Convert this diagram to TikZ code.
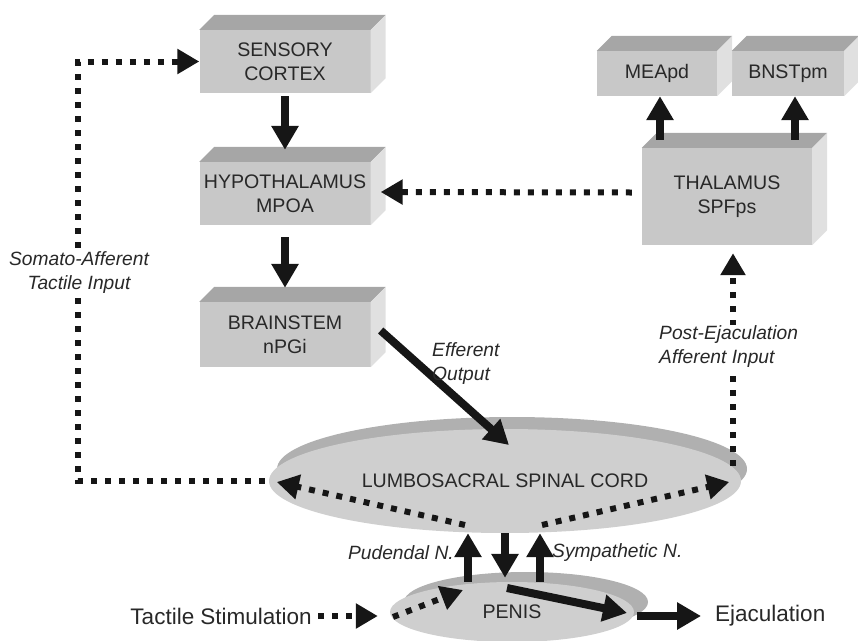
\documentclass[tikz,border=0pt]{standalone}
\usepackage{fontspec}
\setmainfont{Liberation Sans}
\usetikzlibrary{arrows.meta,calc,shapes.geometric}

\definecolor{frontgray}{RGB}{200,200,200}
\definecolor{topgray}{RGB}{166,166,166}
\definecolor{sidegray}{RGB}{224,224,224}
\definecolor{discfront}{RGB}{207,207,207}
\definecolor{discback}{RGB}{176,176,176}
\definecolor{ink}{RGB}{40,40,40}
\definecolor{arrowink}{RGB}{22,22,22}

\begin{document}
\begin{tikzpicture}[x=1pt,y=-1pt,
  box/.style={fill=frontgray, text=ink, inner sep=0pt, align=center,
    font=\fontsize{19.6}{24}\selectfont},
  topface/.style={fill=topgray},
  sideface/.style={fill=sidegray},
  disc/.style={ellipse, fill=discfront, text=ink, inner sep=0pt,
    font=\fontsize{19.6}{24}\selectfont},
  discshadow/.style={ellipse, fill=discback, inner sep=0pt},
  solidarrow/.style={draw=arrowink, line width=8pt,
    -{Triangle[length=24pt,width=26pt]}},
  dotarrow/.style={draw=arrowink, line width=6pt, dash pattern=on 6pt off 8pt,
    -{Triangle[length=22pt,width=24pt]}},
  lbl/.style={font=\fontsize{19.2}{24}\selectfont\itshape, text=ink,
    inner sep=1pt, fill=white},
  plain/.style={font=\fontsize{22.5}{26}\selectfont, text=ink, inner sep=2pt},
]
\clip (0,0) rectangle (858,640);

% --- brain boxes (front faces) ---
\node[box, minimum width=171pt, minimum height=63pt] (cortex) at (285,61.5) {SENSORY\\CORTEX};
\node[box, minimum width=171pt, minimum height=63pt] (hypo) at (285,193.5) {HYPOTHALAMUS\\MPOA};
\node[box, minimum width=171pt, minimum height=65pt] (brain) at (285,334.5) {BRAINSTEM\\nPGi};
\node[box, minimum width=170pt, minimum height=97pt] (thal) at (727,196.5) {THALAMUS\\SPFps};
\node[box, minimum width=120pt, minimum height=45pt] (mea) at (657,73.5) {MEApd};
\node[box, minimum width=112pt, minimum height=45pt] (bnst) at (788,73.5) {BNSTpm};

% --- top and side faces give the boxes depth ---
\foreach \b in {cortex,hypo,brain,thal,mea,bnst}{
  \fill[topface] (\b.north west) -- ++(15,-15)
    -- ([shift={(15,-15)}]\b.north east) -- (\b.north east) -- cycle;
  \fill[sideface] (\b.north east) -- ++(15,-15)
    -- ([shift={(15,-15)}]\b.south east) -- (\b.south east) -- cycle;
}

% --- spinal cord and penis discs ---
\node[discshadow, minimum width=470pt, minimum height=104pt] (cordback) at (512,469) {};
\node[disc, minimum width=472pt, minimum height=104pt] (cord) at (505,481) {LUMBOSACRAL SPINAL CORD};
\node[discshadow, minimum width=244pt, minimum height=60pt] (penisback) at (526,602) {};
\node[disc, minimum width=244pt, minimum height=60pt] (penis) at (512,612) {PENIS};

% --- descending pathway ---
\draw[solidarrow] ([yshift=-3pt]cortex.south) -- ([yshift=12pt]hypo.north);
\draw[solidarrow] ([yshift=-12pt]hypo.south) -- ([yshift=14pt]brain.north);
\draw[solidarrow] ([shift={(10,-4)}]brain.east) -- ($(cord.center)+(4,-36)$);
\node[lbl, fill=none, anchor=west, align=left] (efflbl) at (431,364) {Efferent\\Output};

% --- thalamic projections ---
\draw[solidarrow] ([shift={(3,-8)}]thal.north -| mea.south) -- ([xshift=3pt]mea.south);
\draw[solidarrow] ([shift={(7,-8)}]thal.north -| bnst.south) -- ([xshift=7pt]bnst.south);
\draw[dotarrow] ([xshift=-10pt,yshift=4pt]thal.west) -- ([shift={(10,-1.5)}]hypo.east);

% --- somato-afferent loop ---
\coordinate (somacorner) at (78,61.5);
\draw[dotarrow] ([xshift=-4pt]cord.west) -| (somacorner) -- (cortex.west);
\node[lbl, align=center] (somalbl) at (79,273) {Somato-Afferent\\Tactile Input};

% --- post-ejaculation afferent input ---
\coordinate (postbase) at (733,466);
\draw[dotarrow, shorten >=8pt] (postbase) -- (postbase |- thal.south);
\node[lbl, anchor=west, align=left] (postlbl) at (658,347) {Post-Ejaculation\\Afferent Input};

% --- spinal cord internal routing ---
\draw[dotarrow] ($(cord.center)+(-40,44)$) -- ([xshift=8pt,yshift=-1pt]cord.west);
\draw[dotarrow] ($(cord.center)+(37,44)$) -- ([xshift=-12pt,yshift=-1pt]cord.east);

% --- cord <-> penis ---
\draw[solidarrow] ([xshift=-44pt]penis.north) -- ([xshift=-37pt]cord.south);
\draw[solidarrow] ([xshift=0pt]cord.south) -- ([xshift=-7pt,yshift=4pt]penis.north);
\draw[solidarrow] ([xshift=28pt]penis.north) -- ([xshift=35pt]cord.south);
\node[lbl, fill=none, anchor=east] (pudlbl) at (455,553) {Pudendal N.};
\node[lbl, fill=none, anchor=west] (symlbl) at (551,553) {Sympathetic N.};

% --- stimulation and ejaculation ---
\node[plain, anchor=east] (tactile) at (314,616) {Tactile Stimulation};
\coordinate (tacend) at ($(penis.west)+(-12,4)$);
\draw[dotarrow] ([xshift=4pt]tactile.east) -- (tacend);
\draw[dotarrow] ($(penis.center)+(-119,5)$) -- ($(penis.center)+(-49,-22)$);
\node[plain, anchor=west] (ejac) at (713,616) {Ejaculation};
\draw[solidarrow] ($(penis.center)+(-5,-24)$) -- ($(penis.center)+(115,1)$);
\draw[solidarrow] ($(penis.center)+(125,4)$) -- ([xshift=-12pt]ejac.west);

\end{tikzpicture}
\end{document}
